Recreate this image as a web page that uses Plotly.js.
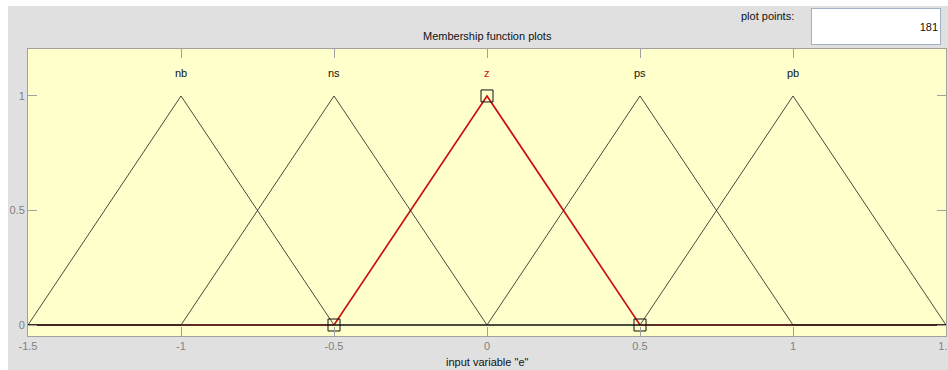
<!DOCTYPE html>
<html>
<head>
<meta charset="utf-8">
<script src="https://cdn.plot.ly/plotly-3.0.1.min.js"></script>
<style>
  html, body { margin: 0; padding: 0; background: #ffffff; overflow: hidden; }
  #chart { position: absolute; left: 8px; top: 6px; width: 940px; height: 364px; }
</style>
</head>
<body>
<div id="chart"></div>
<script>
// ---- data ----
const mfNames  = ['nb', 'ns', 'z', 'ps', 'pb'];
const mfLeft   = [-1.5, -1, -0.5, 0, 0.5];
const mfPeak   = [-1, -0.5, 0, 0.5, 1];
const mfRight  = [-0.5, 0, 0.5, 1, 1.5];
const inputRange = [-1.5, 1.5];
const selectedMf = 'z';
const plotPoints = 181;
const variableName = 'e';
const xTicks = [-1.5, -1, -0.5, 0, 0.5, 1, 1.5];
const xTickText = ['-1.5', '-1', '-0.5', '0', '0.5', '1', '1.5'];
const yTicks = [0, 0.5, 1];
const yTickText = ['0', '0.5', '1'];

// ---- build traces ----
const FONT = '"Liberation Sans", Arial, sans-serif';
const RED = '#cc1010';
const selIdx = mfNames.indexOf(selectedMf);

function mfTrace(i, color, width) {
  return {
    type: 'scatter', mode: 'lines',
    x: [inputRange[0], mfLeft[i], mfPeak[i], mfRight[i], inputRange[1]],
    y: [0, 0, 1, 0, 0],
    line: { color: color, width: width },
    hoverinfo: 'skip', showlegend: false, cliponaxis: false
  };
}

const traces = [];
traces.push(mfTrace(selIdx, RED, 1.7));
mfNames.forEach((n, i) => { if (i !== selIdx) traces.push(mfTrace(i, '#1a1a1a', 0.8)); });
traces.push({
  type: 'scatter', mode: 'markers',
  x: [mfLeft[selIdx], mfPeak[selIdx], mfRight[selIdx]],
  y: [0, 1, 0],
  marker: { symbol: 'square-open', size: 12, color: '#111111', line: { width: 1, color: '#111111' } },
  hoverinfo: 'skip', showlegend: false
});

// plot area in div pixels: x 20..938, y 43..330
const annotations = mfNames.map((n, i) => ({
  x: mfPeak[i], y: 1.1, xref: 'x', yref: 'y', text: n, showarrow: false,
  font: { family: FONT, size: 11, color: i === selIdx ? RED : '#111111' },
  xanchor: 'center', yanchor: 'middle'
}));
annotations.push({
  x: 0.5, y: (330 - 30) / 287, xref: 'paper', yref: 'paper',
  text: 'Membership function plots', showarrow: false,
  font: { family: FONT, size: 11, color: '#111111' }, xanchor: 'center', yanchor: 'middle'
});
annotations.push({
  x: 0.5, y: (330 - 356) / 287, xref: 'paper', yref: 'paper',
  text: 'input variable "' + variableName + '"', showarrow: false,
  font: { family: FONT, size: 11, color: '#111111' }, xanchor: 'center', yanchor: 'middle'
});
annotations.push({
  x: (788 - 20) / 918, y: (330 - 10) / 287, xref: 'paper', yref: 'paper',
  text: 'plot points:', showarrow: false,
  font: { family: FONT, size: 11, color: '#111111' }, xanchor: 'right', yanchor: 'middle'
});
annotations.push({
  x: (868 - 20) / 918, y: (330 - 20.5) / 287, xref: 'paper', yref: 'paper',
  text: String(plotPoints), showarrow: false, align: 'right', valign: 'middle',
  width: 124, height: 31, borderpad: 2, borderwidth: 1,
  bordercolor: '#9fb2c6', bgcolor: '#ffffff',
  font: { family: FONT, size: 11, color: '#111111' }, xanchor: 'center', yanchor: 'middle'
});

const axisCommon = {
  showgrid: false, zeroline: false, showline: true, linecolor: '#a0a0a0', linewidth: 1,
  mirror: 'ticks', ticks: 'inside', ticklen: 9, tickcolor: '#a0a0a0', tickwidth: 1,
  tickfont: { family: FONT, size: 11, color: '#808080' }, tickmode: 'array', fixedrange: true,
  ticklabeloverflow: 'allow'
};

const layout = {
  width: 940, height: 364,
  margin: { l: 20, r: 2, t: 43, b: 34, pad: 0 },
  paper_bgcolor: '#e0e0e0',
  plot_bgcolor: '#ffffcc',
  xaxis: Object.assign({}, axisCommon, { range: inputRange, tickvals: xTicks, ticktext: xTickText }),
  yaxis: Object.assign({}, axisCommon, { range: [-0.048, 1.205], tickvals: yTicks, ticktext: yTickText }),
  annotations: annotations,
  showlegend: false
};

Plotly.newPlot('chart', traces, layout, { displayModeBar: false, staticPlot: true });
</script>
</body>
</html>
